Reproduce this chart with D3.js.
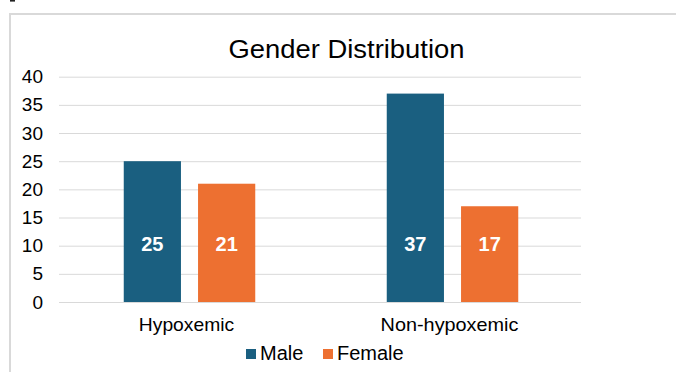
<!DOCTYPE html>
<html>
<head>
<meta charset="utf-8">
<script src="https://cdn.jsdelivr.net/npm/d3@7"></script>
<style>
  html, body { margin: 0; padding: 0; background: #fff; }
  svg { display: block; font-family: Arial, "Liberation Sans", sans-serif; }
</style>
</head>
<body>
<svg id="chart" width="676" height="372"></svg>
<script>
const title = "Gender Distribution";
const categories = ["Hypoxemic", "Non-hypoxemic"];
const seriesNames = ["Male", "Female"];
const maleValues = [25, 37];
const femaleValues = [21, 17];
const yTicks = [0, 5, 10, 15, 20, 25, 30, 35, 40];
const colors = { Male: "#1a5f80", Female: "#ed7031" };

const svg = d3.select("#chart");

// outer frame (partial, like the cropped reference)
svg.append("path")
  .attr("d", "M10,372 V14 H676")
  .attr("fill", "none").attr("stroke", "#d9d9d9").attr("stroke-width", 2);

// stray mark from content above the frame
svg.append("path").attr("d", "M10,0.8 H15")
  .attr("stroke", "#222").attr("stroke-width", 1.6);

const y = d3.scaleLinear().domain([0, 40]).range([302, 76.7]);
const x0 = d3.scaleBand().domain(categories).range([58, 584]).padding(0);
const x1 = d3.scaleBand().domain(seriesNames).range([0, x0.bandwidth()])
  .paddingInner(0.23).paddingOuter(0.885);

// gridlines
const grid = svg.append("g").attr("transform", "translate(59,0)")
  .call(d3.axisLeft(y).tickValues(yTicks).tickSize(-522).tickFormat(""));
grid.select(".domain").remove();
grid.selectAll("line").attr("stroke", "#d9d9d9").attr("stroke-width", 1);

// y tick labels
const yAx = svg.append("g").attr("transform", "translate(43,0)")
  .call(d3.axisLeft(y).tickValues(yTicks).tickSize(0).tickPadding(0));
yAx.select(".domain").remove();
yAx.selectAll("text").attr("font-size", 19).attr("fill", "#000")
  .attr("font-family", "Arial, Liberation Sans, sans-serif");

// data
const rows = categories.map((c, i) => ({ cat: c, values: [
  { key: "Male", v: maleValues[i] }, { key: "Female", v: femaleValues[i] } ] }));

const groups = svg.append("g").selectAll("g").data(rows).join("g")
  .attr("transform", d => `translate(${x0(d.cat)},0)`);

groups.selectAll("rect").data(d => d.values).join("rect")
  .attr("x", d => x1(d.key)).attr("width", x1.bandwidth())
  .attr("y", d => y(d.v)).attr("height", d => y(0) - y(d.v))
  .attr("fill", d => colors[d.key]);

groups.selectAll("text.lbl").data(d => d.values).join("text")
  .attr("class", "lbl")
  .attr("x", d => x1(d.key) + x1.bandwidth() / 2)
  .attr("y", y(0) - 51)
  .attr("text-anchor", "middle").attr("font-size", 20).attr("font-weight", "bold")
  .attr("fill", "#fff").text(d => d.v);

// x axis labels
const xAx = svg.append("g").attr("transform", "translate(0,302)")
  .call(d3.axisBottom(x0).tickSize(0).tickPadding(16));
xAx.select(".domain").remove();
xAx.selectAll("text").attr("font-size", 19).attr("fill", "#000")
  .attr("dx", -3)
  .attr("textLength", d => d.length * 10.6)
  .attr("lengthAdjust", "spacingAndGlyphs")
  .attr("font-family", "Arial, Liberation Sans, sans-serif");

// title
svg.append("text").attr("x", 346.5).attr("y", 58).attr("text-anchor", "middle")
  .attr("font-size", 25).attr("fill", "#000")
  .attr("textLength", 236).attr("lengthAdjust", "spacingAndGlyphs").text(title);

// legend
const legend = svg.append("g");
const legX = [246, 323];
seriesNames.forEach((s, i) => {
  legend.append("rect").attr("x", legX[i]).attr("y", 349).attr("width", 10).attr("height", 10)
    .attr("fill", colors[s]);
  legend.append("text").attr("x", legX[i] + 14).attr("y", 359.5)
    .attr("font-size", 20).attr("fill", "#000").text(s);
});
</script>
</body>
</html>
